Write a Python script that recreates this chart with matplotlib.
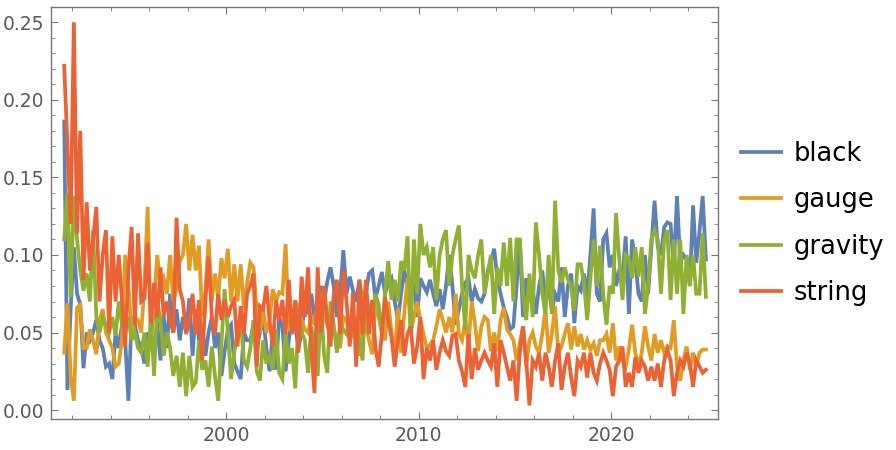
import numpy as np
import matplotlib
matplotlib.use("Agg")
import matplotlib.pyplot as plt
from matplotlib.ticker import MultipleLocator, FormatStrFormatter

# values, one every two months from Aug 1991
black = [
    0.186, 0.013, 0.065, 0.105, 0.075, 0.068, 0.027, 0.05, 0.045, 0.05, 0.058, 0.045, 0.04, 0.028, 0.03, 0.02,
    0.05, 0.04, 0.055, 0.045, 0.006, 0.06, 0.055, 0.045, 0.04, 0.03, 0.05, 0.045, 0.07, 0.055, 0.032, 0.06,
    0.04, 0.075, 0.05, 0.065, 0.045, 0.06, 0.05, 0.072, 0.035, 0.065, 0.045, 0.055, 0.035, 0.05, 0.06, 0.04,
    0.05, 0.022, 0.038, 0.052, 0.055, 0.03, 0.025, 0.02, 0.05, 0.045, 0.045, 0.055, 0.04, 0.05, 0.06, 0.04,
    0.025, 0.05, 0.026, 0.06,
    0.054, 0.025, 0.045, 0.06, 0.055, 0.04, 0.05, 0.07, 0.062, 0.075, 0.06, 0.066, 0.08, 0.07, 0.083, 0.092,
    0.08, 0.06, 0.075, 0.103, 0.075, 0.086, 0.077, 0.07, 0.084, 0.068, 0.075, 0.088, 0.09, 0.072, 0.08, 0.089,
    0.075, 0.082, 0.085, 0.07,
    0.058, 0.075, 0.09, 0.08, 0.072, 0.082, 0.06, 0.085, 0.08, 0.076, 0.084, 0.075, 0.067, 0.078, 0.065, 0.08,
    0.1, 0.08, 0.055, 0.065, 0.075, 0.082, 0.085, 0.07, 0.078, 0.072, 0.07, 0.075, 0.09, 0.096, 0.104, 0.085,
    0.075, 0.066, 0.06, 0.052,
    0.054, 0.08, 0.11, 0.06, 0.085, 0.07, 0.078, 0.062, 0.08, 0.09, 0.07, 0.08, 0.064, 0.075, 0.07, 0.092,
    0.06, 0.08, 0.088, 0.056, 0.08, 0.077, 0.088, 0.073, 0.1, 0.13, 0.075, 0.07,
    0.11, 0.114, 0.092, 0.1, 0.08, 0.09, 0.085, 0.112, 0.062, 0.11, 0.096, 0.075, 0.07, 0.1, 0.075, 0.105,
    0.135, 0.105, 0.1, 0.118, 0.121, 0.12, 0.092, 0.138, 0.095, 0.1, 0.097, 0.08, 0.132, 0.095, 0.115, 0.138,
    0.097,
]
gauge = [
    0.037, 0.069, 0.022, 0.006, 0.066, 0.068, 0.04, 0.04, 0.052, 0.045, 0.036, 0.058, 0.065, 0.05, 0.045, 0.04,
    0.028, 0.03, 0.045, 0.1, 0.08, 0.05, 0.06, 0.058, 0.05, 0.08, 0.131, 0.05, 0.07, 0.1, 0.08, 0.085,
    0.075, 0.1, 0.07, 0.078, 0.096, 0.1, 0.12, 0.09, 0.113, 0.09, 0.106, 0.06, 0.077, 0.11, 0.07, 0.088,
    0.072, 0.098, 0.085, 0.104, 0.07, 0.094, 0.07, 0.094, 0.065, 0.082, 0.095, 0.092, 0.064, 0.05, 0.065, 0.05,
    0.058, 0.078, 0.07, 0.076,
    0.075, 0.107, 0.055, 0.05, 0.07, 0.065, 0.058, 0.052, 0.05, 0.06, 0.055, 0.07, 0.075, 0.06, 0.055, 0.05,
    0.052, 0.045, 0.04, 0.06, 0.058, 0.045, 0.05, 0.048, 0.035, 0.075, 0.055, 0.045, 0.036, 0.07, 0.06, 0.05,
    0.045, 0.07, 0.05, 0.035,
    0.066, 0.037, 0.063, 0.085, 0.05, 0.06, 0.07, 0.058, 0.049, 0.04, 0.042, 0.045, 0.054, 0.065, 0.058, 0.05,
    0.06, 0.05, 0.075, 0.049, 0.045, 0.058, 0.042, 0.07, 0.056, 0.038, 0.054, 0.06, 0.058, 0.038, 0.05, 0.038,
    0.058, 0.066, 0.052, 0.049,
    0.045, 0.032, 0.043, 0.054, 0.028, 0.045, 0.05, 0.041, 0.037, 0.049, 0.065, 0.037, 0.049, 0.067, 0.037, 0.041,
    0.049, 0.056, 0.039, 0.054, 0.041, 0.049, 0.039, 0.045, 0.039, 0.043, 0.035, 0.045,
    0.045, 0.049, 0.037, 0.056, 0.032, 0.041, 0.032, 0.028, 0.039, 0.055, 0.037, 0.028, 0.037, 0.054, 0.041, 0.032,
    0.049, 0.037, 0.045, 0.037, 0.041, 0.04, 0.058, 0.028, 0.019, 0.032, 0.041, 0.026, 0.037, 0.028, 0.037, 0.039,
    0.039,
]
gravity = [
    0.11, 0.14, 0.073, 0.138, 0.11, 0.09, 0.077, 0.088, 0.07, 0.116, 0.06, 0.05, 0.06, 0.055, 0.05, 0.06,
    0.048, 0.07, 0.055, 0.05, 0.06, 0.045, 0.05, 0.04, 0.037, 0.05, 0.028, 0.06, 0.022, 0.07, 0.058, 0.035,
    0.05, 0.04, 0.022, 0.035, 0.015, 0.037, 0.009, 0.035, 0.015, 0.018, 0.045, 0.026, 0.032, 0.015, 0.041, 0.022,
    0.006, 0.043, 0.078, 0.05, 0.02, 0.037, 0.05, 0.058, 0.032, 0.028, 0.04, 0.058, 0.025, 0.019, 0.045, 0.03,
    0.035, 0.026, 0.052, 0.024,
    0.02, 0.05, 0.03, 0.04, 0.014, 0.058, 0.05, 0.045, 0.024, 0.054, 0.04, 0.022, 0.07, 0.035, 0.024, 0.07,
    0.055, 0.037, 0.056, 0.052, 0.049, 0.06, 0.054, 0.049, 0.045, 0.032, 0.08, 0.062, 0.058, 0.075, 0.068, 0.049,
    0.075, 0.096, 0.071, 0.084,
    0.07, 0.096, 0.09, 0.112, 0.049, 0.11, 0.075, 0.12, 0.1, 0.105, 0.092, 0.105, 0.071, 0.1, 0.11, 0.116,
    0.08, 0.1, 0.11, 0.119, 0.08, 0.052, 0.1, 0.09, 0.085, 0.1, 0.11, 0.075, 0.088, 0.1, 0.062, 0.092,
    0.08, 0.108, 0.08, 0.111,
    0.07, 0.11, 0.11, 0.075, 0.058, 0.088, 0.06, 0.121, 0.1, 0.075, 0.062, 0.1, 0.062, 0.135, 0.09, 0.082,
    0.092, 0.084, 0.08, 0.064, 0.094, 0.094, 0.082, 0.058, 0.085, 0.11, 0.08, 0.106,
    0.075, 0.055, 0.08, 0.075, 0.127, 0.097, 0.071, 0.1, 0.098, 0.085, 0.105, 0.086, 0.105, 0.062, 0.08, 0.11,
    0.116, 0.11, 0.075, 0.11, 0.116, 0.071, 0.11, 0.075, 0.11, 0.062, 0.1, 0.08, 0.1, 0.075, 0.075, 0.114,
    0.073,
]
string = [
    0.222, 0.17, 0.12, 0.25, 0.114, 0.18, 0.084, 0.134, 0.09, 0.11, 0.131, 0.07, 0.1, 0.116, 0.05, 0.112,
    0.07, 0.1, 0.07, 0.041, 0.09, 0.118, 0.055, 0.114, 0.07, 0.072, 0.108, 0.056, 0.082, 0.06, 0.092, 0.06,
    0.07, 0.058, 0.05, 0.124, 0.078, 0.07, 0.049, 0.058, 0.075, 0.049, 0.071, 0.032, 0.07, 0.099, 0.06, 0.049,
    0.075, 0.058, 0.071, 0.06, 0.067, 0.071, 0.041, 0.067, 0.049, 0.075, 0.08, 0.088, 0.028, 0.067, 0.065, 0.08,
    0.058, 0.041, 0.071, 0.058,
    0.071, 0.049, 0.084, 0.049, 0.071, 0.037, 0.086, 0.06, 0.092, 0.04, 0.011, 0.092, 0.05, 0.08, 0.058, 0.041,
    0.075, 0.084, 0.049, 0.09, 0.07, 0.041, 0.076, 0.028, 0.084, 0.049, 0.084, 0.049, 0.071, 0.04, 0.028, 0.049,
    0.073, 0.058, 0.047, 0.028,
    0.045, 0.058, 0.035, 0.049, 0.054, 0.03, 0.041, 0.06, 0.02, 0.04, 0.032, 0.045, 0.026, 0.037, 0.045, 0.038,
    0.035, 0.048, 0.049, 0.032, 0.025, 0.015, 0.049, 0.02, 0.04, 0.026, 0.032, 0.037, 0.032, 0.028, 0.043, 0.015,
    0.045, 0.037, 0.028, 0.019,
    0.032, 0.006, 0.037, 0.054, 0.032, 0.003, 0.032, 0.028, 0.037, 0.019, 0.037, 0.028, 0.015, 0.032, 0.043, 0.013,
    0.028, 0.037, 0.021, 0.009, 0.032, 0.028, 0.037, 0.021, 0.037, 0.024, 0.019, 0.03,
    0.037, 0.032, 0.026, 0.009, 0.028, 0.032, 0.041, 0.015, 0.024, 0.015, 0.034, 0.024, 0.032, 0.028, 0.019, 0.028,
    0.019, 0.03, 0.015, 0.032, 0.039, 0.032, 0.009, 0.024, 0.032, 0.028, 0.037, 0.03, 0.015, 0.032, 0.028, 0.024,
    0.026,
]

labels = ["black", "gauge", "gravity", "string"]
colors = ["#5E81B5", "#E19C24", "#8FB032", "#EB6235"]
series = [black, gauge, gravity, string]

# decimal years, bimonthly from Aug 1991
years = 1991 + 7 / 12 + np.arange(len(black)) / 6

fig = plt.figure(figsize=(8.96, 4.5), dpi=100)
ax = fig.add_axes([0.057, 0.068, 0.744, 0.917])

for vals, lab, col in zip(series, labels, colors):
    ax.plot(years, vals, color=col, lw=2.7, label=lab, solid_joinstyle="miter")

ax.set_xlim(1990.9, 2025.53)
ax.set_ylim(-0.006, 0.26)
ax.xaxis.set_major_locator(MultipleLocator(10))
ax.xaxis.set_minor_locator(MultipleLocator(2))
ax.yaxis.set_major_locator(MultipleLocator(0.05))
ax.yaxis.set_minor_locator(MultipleLocator(0.01))
ax.yaxis.set_major_formatter(FormatStrFormatter("%.2f"))

for s in ax.spines.values():
    s.set_color("#777777")
    s.set_linewidth(1.0)
ax.tick_params(which="both", direction="in", top=True, right=True, color="#777777")
ax.tick_params(which="major", length=5, labelsize=13.5, labelcolor="#5a5a5a", pad=5)
ax.tick_params(which="minor", length=3)

fig.legend(loc="center left", bbox_to_anchor=(0.816, 0.503), frameon=False,
           fontsize=18.5, handlelength=1.55, handletextpad=0.5, labelspacing=0.8,
           borderaxespad=0)

fig.savefig("out.png", dpi=100)
